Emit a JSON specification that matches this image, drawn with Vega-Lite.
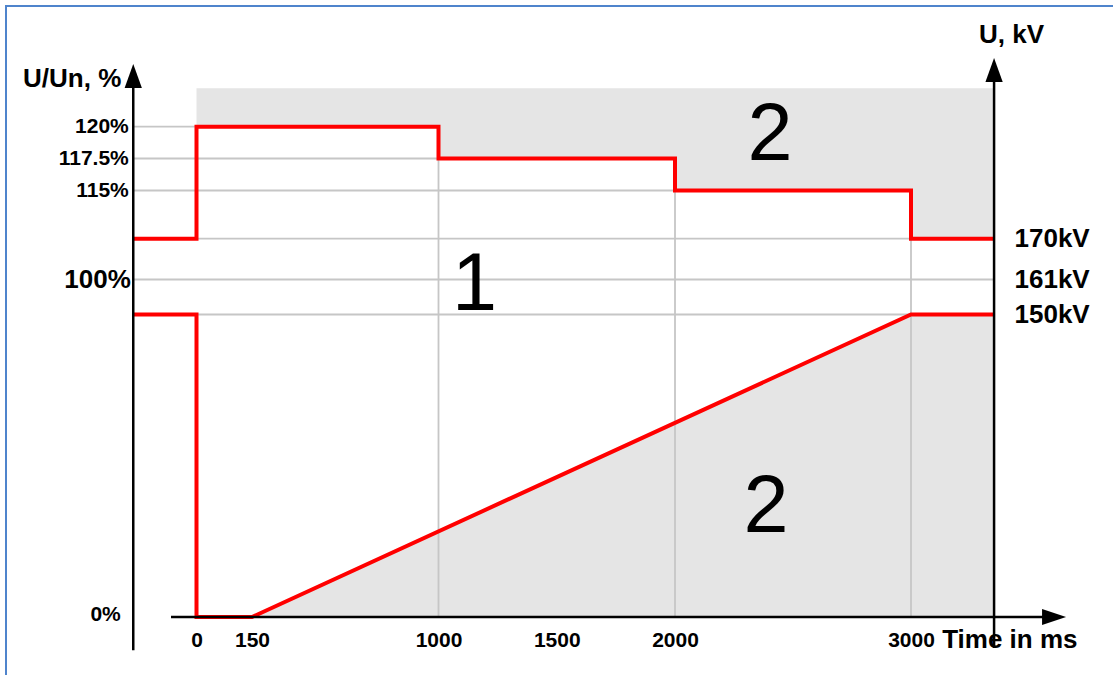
{
  "$schema": "https://vega.github.io/schema/vega-lite/v6.json",
  "width": 1110,
  "height": 672,
  "autosize": {"type": "none"},
  "padding": {"left": 6, "top": 6, "right": -3, "bottom": -3},
  "background": "white",
  "config": {
    "view": {"stroke": "#4F84CC", "strokeWidth": 2},
    "font": "Liberation Sans"
  },
  "datasets": {
    "upper": [
      {"t": -268, "u": 105.59},
      {"t": 0, "u": 120},
      {"t": 1000, "u": 117.5},
      {"t": 2000, "u": 115},
      {"t": 3000, "u": 105.59},
      {"t": 3352, "u": 105.59}
    ],
    "lower": [
      {"o": 1, "t": -268, "u": 93.17},
      {"o": 2, "t": 0, "u": 93.17},
      {"o": 3, "t": 0, "u": 0},
      {"o": 4, "t": 150, "u": 0},
      {"o": 5, "t": 3000, "u": 93.17},
      {"o": 6, "t": 3352, "u": 93.17}
    ],
    "topgray": [
      {"t": 0, "top": 123, "bottom": 120},
      {"t": 1000, "top": 123, "bottom": 117.5},
      {"t": 2000, "top": 123, "bottom": 115},
      {"t": 3000, "top": 123, "bottom": 105.59},
      {"t": 3352, "top": 123, "bottom": 105.59}
    ],
    "botgray": [
      {"t": 150, "u": 0},
      {"t": 3000, "u": 93.17},
      {"t": 3352, "u": 93.17}
    ],
    "grid": [
      {"t1": -268, "t2": 0, "u1": 120, "u2": 120},
      {"t1": -268, "t2": 1000, "u1": 117.5, "u2": 117.5},
      {"t1": -268, "t2": 2000, "u1": 115, "u2": 115},
      {"t1": -268, "t2": 3352, "u1": 105.59, "u2": 105.59},
      {"t1": -268, "t2": 3352, "u1": 100, "u2": 100},
      {"t1": -268, "t2": 3352, "u1": 93.17, "u2": 93.17},
      {"t1": 1000, "t2": 1000, "u1": 0, "u2": 120},
      {"t1": 2000, "t2": 2000, "u1": 0, "u2": 117.5},
      {"t1": 3000, "t2": 3000, "u1": 0, "u2": 115}
    ],
    "axislines": [
      {"t1": -268, "t2": -268, "u1": -10.2, "u2": 124},
      {"t1": 3352, "t2": 3352, "u1": -9.5, "u2": 124.5},
      {"t1": -108, "t2": 3600, "u1": 0, "u2": 0}
    ],
    "uparrows": [
      {"t": -268, "u": 124.9},
      {"t": 3352, "u": 125.37}
    ],
    "rightarrows": [
      {"t": 3657, "u": 0}
    ],
    "titles": [
      {"label": "U/Un, %", "t": -735, "u": 123.1},
      {"label": "U, kV", "t": 3288, "u": 126.54},
      {"label": "Time in ms", "t": 3132, "u": -9.55}
    ],
    "regions": [
      {"label": "1", "t": 1152, "u": 94.05},
      {"label": "2", "t": 2403, "u": 117.38},
      {"label": "2", "t": 2386, "u": 26.2}
    ]
  },
  "resolve": {"axis": {"x": "independent", "y": "independent"}},
  "layer": [
    {
      "data": {"name": "topgray"},
      "mark": {"type": "area", "interpolate": "step-after", "color": "#E5E5E5"},
      "encoding": {
        "x": {"field": "t", "type": "quantitative",
              "scale": {"domain": [-300, 0, 150, 1000, 2000, 3000, 4000], "range": [119.7, 190.5, 246, 432.5, 669, 905, 1141], "nice": false, "zero": false},
              "axis": {"orient": "bottom", "offset": -61, "values": [0, 150, 1000, 1500, 2000, 3000], "format": "d", "domain": false, "ticks": false, "tickSize": 0, "grid": false, "title": null, "labelFontSize": 21, "labelFontWeight": "bold", "labelColor": "black", "labelBaseline": "middle", "labelPadding": 23, "labelFlush": false, "labelOverlap": false, "labelFont": "Liberation Sans"}},
        "y": {"field": "top", "type": "quantitative", "axis": null,
              "scale": {"domain": [-12, 0, 93.17, 100, 105.59, 115, 117.5, 120, 126], "range": [650, 611, 308.5, 273.5, 232.7, 184.5, 152.5, 120.7, 43.9], "nice": false, "zero": false}},
        "y2": {"field": "bottom"}
      }
    },
    {
      "data": {"name": "botgray"},
      "mark": {"type": "area", "color": "#E5E5E5"},
      "encoding": {
        "x": {"field": "t", "type": "quantitative", "axis": null},
        "y": {"field": "u", "type": "quantitative", "axis": null},
        "y2": {"datum": 0}
      }
    },
    {
      "data": {"name": "grid"},
      "mark": {"type": "rule", "color": "#C6C6C6", "strokeWidth": 1.8},
      "encoding": {
        "x": {"field": "t1", "type": "quantitative", "axis": null},
        "x2": {"field": "t2"},
        "y": {"field": "u1", "type": "quantitative",
              "axis": {"orient": "left", "offset": -127.3, "values": [0, 100, 115, 117.5, 120], "labelExpr": "datum.value + '%'", "domain": false, "ticks": false, "tickSize": 0, "grid": false, "title": null,
                       "labelFontSize": {"condition": {"test": "datum.value === 100", "value": 26}, "value": 21},
                       "labelPadding": {"condition": [{"test": "datum.value === 100", "value": 3}, {"test": "datum.value === 0", "value": 13}], "value": 5},
                       "labelOffset": {"condition": {"test": "datum.value === 0", "value": -3}, "value": 0},
                       "labelFontWeight": "bold", "labelColor": "black", "labelBaseline": "middle", "labelFlush": false, "labelOverlap": false, "labelFont": "Liberation Sans"}},
        "y2": {"field": "u2"}
      }
    },
    {
      "data": {"name": "regions"},
      "mark": {"type": "text", "fontSize": 81, "font": "Liberation Sans", "align": "center", "baseline": "alphabetic", "color": "black"},
      "encoding": {
        "x": {"field": "t", "type": "quantitative", "axis": null},
        "y": {"field": "u", "type": "quantitative", "axis": null},
        "text": {"field": "label"}
      }
    },
    {
      "data": {"name": "titles"},
      "mark": {"type": "text", "fontSize": 26, "fontWeight": "bold", "font": "Liberation Sans", "align": "left", "baseline": "alphabetic", "color": "black"},
      "encoding": {
        "x": {"field": "t", "type": "quantitative", "axis": null},
        "y": {"field": "u", "type": "quantitative", "axis": null},
        "text": {"field": "label"}
      }
    },
    {
      "data": {"name": "upper"},
      "mark": {"type": "line", "interpolate": "step-after", "color": "#FF0000", "strokeWidth": 4},
      "encoding": {
        "x": {"field": "t", "type": "quantitative", "axis": null},
        "y": {"field": "u", "type": "quantitative", "axis": null}
      }
    },
    {
      "data": {"name": "lower"},
      "mark": {"type": "line", "color": "#FF0000", "strokeWidth": 4},
      "encoding": {
        "x": {"field": "t", "type": "quantitative", "axis": null},
        "y": {"field": "u", "type": "quantitative",
              "axis": {"orient": "right", "offset": -122, "values": [93.17, 100, 105.59], "labelExpr": "format(datum.value * 1.61, '.0f') + 'kV'", "domain": false, "ticks": false, "tickSize": 0, "grid": false, "title": null, "labelFontSize": 26, "labelFontWeight": "bold", "labelColor": "black", "labelAlign": "left", "labelBaseline": "middle", "labelPadding": 20, "labelFlush": false, "labelOverlap": false, "labelFont": "Liberation Sans"}},
        "order": {"field": "o"}
      }
    },
    {
      "data": {"name": "axislines"},
      "mark": {"type": "rule", "color": "black", "strokeWidth": 2.5},
      "encoding": {
        "x": {"field": "t1", "type": "quantitative", "axis": null},
        "x2": {"field": "t2"},
        "y": {"field": "u1", "type": "quantitative", "axis": null},
        "y2": {"field": "u2"}
      }
    },
    {
      "data": {"name": "uparrows"},
      "mark": {"type": "point", "shape": "M0,0L-0.36,1L0.36,1Z", "size": 2304, "filled": true, "color": "black", "opacity": 1, "strokeWidth": 0},
      "encoding": {
        "x": {"field": "t", "type": "quantitative", "axis": null},
        "y": {"field": "u", "type": "quantitative", "axis": null}
      }
    },
    {
      "data": {"name": "rightarrows"},
      "mark": {"type": "point", "shape": "M0,0L-1,-0.33L-1,0.33Z", "size": 2304, "filled": true, "color": "black", "opacity": 1, "strokeWidth": 0},
      "encoding": {
        "x": {"field": "t", "type": "quantitative", "axis": null},
        "y": {"field": "u", "type": "quantitative", "axis": null}
      }
    }
  ]
}
